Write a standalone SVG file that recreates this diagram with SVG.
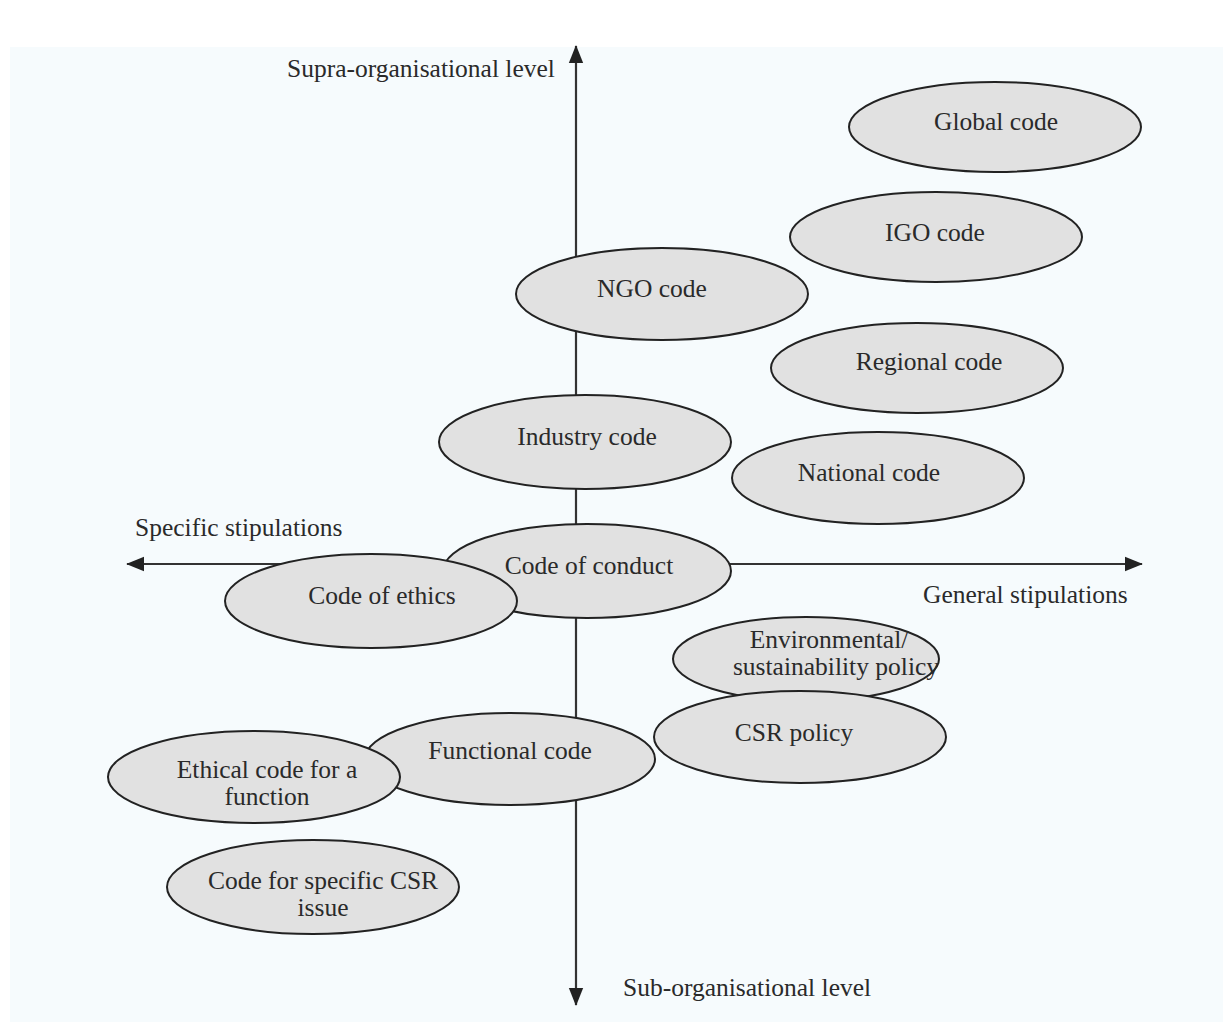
<svg xmlns="http://www.w3.org/2000/svg" width="1226" height="1022" viewBox="0 0 1226 1022">
  <defs>
    <marker id="head" viewBox="0 0 20 20" refX="19" refY="10" markerWidth="18" markerHeight="18" markerUnits="userSpaceOnUse" orient="auto-start-reverse">
      <path d="M0,2 L20,10 L0,18 z" fill="#222"/>
    </marker>
    <style>
      .axis { stroke: #333; stroke-width: 2.2; fill: none; }
      .node ellipse { fill: #e1e1e1; stroke: #222; stroke-width: 2; }
      text { font-family: "Liberation Serif", "Times New Roman", serif; font-size: 25.5px; fill: #2a2a2a; }
      .label { text-anchor: middle; }
    </style>
  </defs>

  <rect x="0" y="0" width="1226" height="1022" fill="#ffffff"/>
  <rect x="10" y="47" width="1213" height="975" fill="#f6fbfd"/>

  <!-- axes -->
  <g id="connectors">
    <line class="axis" x1="576" y1="46" x2="576" y2="1005" marker-start="url(#head)" marker-end="url(#head)"/>
    <line class="axis" x1="127" y1="564" x2="1142" y2="564" marker-start="url(#head)" marker-end="url(#head)"/>
  </g>

  <!-- axis captions -->
  <text x="287" y="77">Supra-organisational level</text>
  <text x="135" y="536">Specific stipulations</text>
  <text x="923" y="603">General stipulations</text>
  <text x="623" y="996">Sub-organisational level</text>

  <!-- codes -->
  <g id="global-code" class="node">
    <ellipse cx="995" cy="127" rx="146" ry="45"/>
    <text class="label" x="996" y="130">Global code</text>
  </g>
  <g id="igo-code" class="node">
    <ellipse cx="936" cy="237" rx="146" ry="45"/>
    <text class="label" x="935" y="241">IGO code</text>
  </g>
  <g id="ngo-code" class="node">
    <ellipse cx="662" cy="294" rx="146" ry="46"/>
    <text class="label" x="652" y="297">NGO code</text>
  </g>
  <g id="regional-code" class="node">
    <ellipse cx="917" cy="368" rx="146" ry="45"/>
    <text class="label" x="929" y="370">Regional code</text>
  </g>
  <g id="industry-code" class="node">
    <ellipse cx="585" cy="442" rx="146" ry="47"/>
    <text class="label" x="587" y="445">Industry code</text>
  </g>
  <g id="national-code" class="node">
    <ellipse cx="878" cy="478" rx="146" ry="46"/>
    <text class="label" x="869" y="481">National code</text>
  </g>
  <g id="code-of-conduct" class="node">
    <ellipse cx="587" cy="571" rx="144" ry="47"/>
    <text class="label" x="589" y="574">Code of conduct</text>
  </g>
  <g id="code-of-ethics" class="node">
    <ellipse cx="371" cy="601" rx="146" ry="47"/>
    <text class="label" x="382" y="604">Code of ethics</text>
  </g>
  <g id="environmental-policy" class="node">
    <ellipse cx="806" cy="659" rx="133" ry="42"/>
    <text class="label" x="829" y="648">Environmental/</text>
    <text class="label" x="836" y="675">sustainability policy</text>
  </g>
  <g id="csr-policy" class="node">
    <ellipse cx="800" cy="737" rx="146" ry="46"/>
    <text class="label" x="794" y="741">CSR policy</text>
  </g>
  <g id="functional-code" class="node">
    <ellipse cx="510" cy="759" rx="145" ry="46"/>
    <text class="label" x="510" y="759">Functional code</text>
  </g>
  <g id="ethical-code-function" class="node">
    <ellipse cx="254" cy="777" rx="146" ry="46"/>
    <text class="label" x="267" y="778">Ethical code for a</text>
    <text class="label" x="267" y="805">function</text>
  </g>
  <g id="specific-csr-code" class="node">
    <ellipse cx="313" cy="887" rx="146" ry="47"/>
    <text class="label" x="323" y="889">Code for specific CSR</text>
    <text class="label" x="323" y="916">issue</text>
  </g>
</svg>
